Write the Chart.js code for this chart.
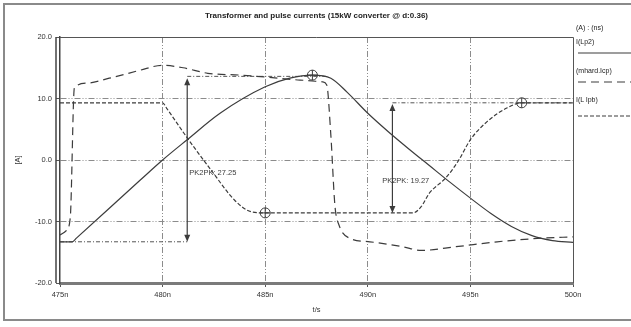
<!DOCTYPE html>
<html>
<head>
<meta charset="utf-8">
<script src="https://cdn.jsdelivr.net/npm/chart.js@4/dist/chart.umd.min.js"></script>
<style>
  html, body { margin: 0; padding: 0; background: #fff; }
  #wrap { position: relative; width: 631px; height: 327px; }
</style>
</head>
<body>
<div id="wrap"><canvas id="currents" width="631" height="327"></canvas></div>
<script>
// axes (time in ns, current in A)
const xTicks = [475, 480, 485, 490, 495, 500];
const yTicks = [-20, -10, 0, 10, 20];

// I(Lp2) - solid
const lp2Time = [475.0, 475.6, 475.8, 478.9, 480.0, 481.2, 482.8, 485.0, 486.2, 487.3, 488.2, 489.0, 490.0, 491.0, 492.0, 493.0, 494.0, 495.0, 496.0, 497.0, 498.0, 499.0, 500.0];
const lp2Amps = [-13.3, -13.3, -12.7, -3.3, 0.0, 3.3, 7.6, 11.9, 13.3, 13.8, 13.3, 11.0, 7.6, 4.6, 1.8, -0.9, -3.6, -6.2, -8.7, -10.8, -12.3, -13.1, -13.4];

// (mhard.Icp) - dashed
const icpTime = [475.0, 475.3, 475.5, 475.7, 476.3, 477.4, 478.0, 478.9, 480.0, 481.0, 482.2, 483.8, 485.0, 486.7, 487.8, 488.0, 488.2, 488.4, 488.6, 489.1, 490.1, 491.7, 492.6, 494.3, 496.3, 498.5, 500.0];
const icpAmps = [-12.2, -11.5, -9.4, 11.7, 12.5, 13.3, 13.8, 14.6, 15.4, 15.0, 14.1, 13.8, 13.5, 13.0, 12.7, 12.2, 4.0, -7.5, -10.6, -12.7, -13.3, -14.1, -14.7, -14.1, -13.3, -12.7, -12.5];

// I(L lpb) - fine dashed
const lpbTime = [475.0, 480.0, 480.2, 481.2, 482.4, 483.5, 484.3, 485.0, 492.2, 492.6, 493.0, 493.8, 494.4, 495.0, 495.8, 496.8, 497.5, 500.0];
const lpbAmps = [9.3, 9.3, 8.4, 3.6, -1.8, -6.5, -8.4, -8.6, -8.6, -7.6, -5.4, -2.9, -0.2, 3.3, 6.2, 8.5, 9.3, 9.3];

// cursors
const cursorTime = [487.3, 485.0, 497.5];
const cursorAmps = [13.8, -8.6, 9.3];

// peak-to-peak measurements
const refTime = [[481.2, 488.0], [475.0, 481.2], [491.2, 500.0]];
const refAmps = [13.6, -13.3, 9.3];
const arrowTime = [481.2, 491.2];
const arrowHigh = [13.3, 9.1];
const arrowLow = [-13.3, -8.6];
const measText = ['PK2PK: 27.25', 'PK2PK: 19.27'];
const measTime = [481.3, 490.7];
const measAmps = [-2.1, -3.4];

const seriesNames = ['I(Lp2)', '(mhard.Icp)', 'I(L lpb)'];

const ink = '#3c3c3c';
const gridInk = '#8c8c8c';
const font = { family: 'Liberation Sans, Arial, sans-serif', size: 7.5 };

function pts(t, v) { return t.map((x, i) => ({ x: x, y: v[i] })); }

const datasets = [
  { label: seriesNames[0], data: pts(lp2Time, lp2Amps), borderColor: ink, borderWidth: 1.2, cubicInterpolationMode: 'monotone' },
  { label: seriesNames[1], data: pts(icpTime, icpAmps), borderColor: ink, borderWidth: 1.2, borderDash: [8, 5], cubicInterpolationMode: 'monotone' },
  { label: seriesNames[2], data: pts(lpbTime, lpbAmps), borderColor: ink, borderWidth: 1.2, borderDash: [4, 2], cubicInterpolationMode: 'monotone' }
];
refTime.forEach((t, i) => {
  datasets.push({ label: 'ref', data: pts(t, [refAmps[i], refAmps[i]]), borderColor: '#555', borderWidth: 1, borderDash: [4, 2, 1, 2] });
});
datasets.push({ type: 'scatter', label: 'cursor', data: pts(cursorTime, cursorAmps), pointStyle: 'circle', pointRadius: 5, borderColor: ink, borderWidth: 1, backgroundColor: 'rgba(0,0,0,0)' });
datasets.push({ type: 'scatter', label: 'cursor', data: pts(cursorTime, cursorAmps), pointStyle: 'cross', pointRadius: 5, borderColor: ink, borderWidth: 1 });

// title, legend, frame and measurement arrows
const decor = {
  id: 'decor',
  afterDatasetsDraw(chart) {
    const ctx = chart.ctx, xs = chart.scales.x, ys = chart.scales.y;
    ctx.save();
    ctx.strokeStyle = ink;
    ctx.fillStyle = ink;
    ctx.lineWidth = 1.2;
    arrowTime.forEach((t, i) => {
      const x = xs.getPixelForValue(t);
      const y1 = ys.getPixelForValue(arrowHigh[i]);
      const y2 = ys.getPixelForValue(arrowLow[i]);
      ctx.beginPath();
      ctx.moveTo(x, y1 + 6);
      ctx.lineTo(x, y2 - 6);
      ctx.stroke();
      ctx.beginPath();
      ctx.moveTo(x, y1); ctx.lineTo(x - 3, y1 + 7); ctx.lineTo(x + 3, y1 + 7); ctx.closePath();
      ctx.fill();
      ctx.beginPath();
      ctx.moveTo(x, y2); ctx.lineTo(x - 3, y2 - 7); ctx.lineTo(x + 3, y2 - 7); ctx.closePath();
      ctx.fill();
    });
    ctx.font = '7.5px Liberation Sans, Arial, sans-serif';
    ctx.textBaseline = 'middle';
    ctx.textAlign = 'left';
    measText.forEach((s, i) => {
      ctx.fillText(s, xs.getPixelForValue(measTime[i]), ys.getPixelForValue(measAmps[i]));
    });
    ctx.restore();
  },
  afterDraw(chart) {
    const ctx = chart.ctx, a = chart.chartArea;
    ctx.save();
    // plot frame
    ctx.strokeStyle = '#555';
    ctx.lineWidth = 1;
    ctx.beginPath();
    ctx.moveTo(a.left, a.top + 0.5); ctx.lineTo(a.right + 0.5, a.top + 0.5); ctx.lineTo(a.right + 0.5, a.bottom);
    ctx.stroke();
    ctx.lineWidth = 1.5;
    ctx.strokeStyle = '#444';
    ctx.beginPath();
    ctx.moveTo(a.left - 4, a.top); ctx.lineTo(a.left - 4, a.bottom);
    ctx.stroke();
    // outer frame
    ctx.strokeStyle = '#8a8a8a';
    ctx.lineWidth = 2;
    ctx.beginPath();
    ctx.moveTo(640, 4); ctx.lineTo(4, 4); ctx.lineTo(4, 320); ctx.lineTo(640, 320);
    ctx.stroke();
    // title
    ctx.fillStyle = '#222';
    ctx.font = 'bold 8px Liberation Sans, Arial, sans-serif';
    ctx.textAlign = 'center';
    ctx.textBaseline = 'middle';
    ctx.fillText('Transformer and pulse currents (15kW converter @ d:0.36)', (a.left + a.right) / 2, 16);
    // legend
    ctx.font = '7px Liberation Sans, Arial, sans-serif';
    ctx.textAlign = 'left';
    ctx.fillText('(A) : (ns)', 576, 28);
    const rows = [[42, 53], [71, 82], [100, 116]];
    rows.forEach((r, i) => {
      const ds = chart.data.datasets[i];
      ctx.fillStyle = '#222';
      ctx.fillText(ds.label, 576, r[0]);
      ctx.strokeStyle = ds.borderColor;
      ctx.lineWidth = ds.borderWidth;
      ctx.setLineDash(ds.borderDash || []);
      ctx.beginPath();
      ctx.moveTo(578, r[1]); ctx.lineTo(631, r[1]);
      ctx.stroke();
      ctx.setLineDash([]);
    });
    ctx.restore();
  }
};

const hideEdges = (lo, hi) => c => (c.tick && c.tick.value > lo && c.tick.value < hi) ? gridInk : 'rgba(0,0,0,0)';

new Chart(document.getElementById('currents'), {
  type: 'line',
  data: { datasets: datasets },
  options: {
    responsive: false,
    devicePixelRatio: 1,
    animation: false,
    elements: { point: { radius: 0 }, line: { tension: 0 } },
    layout: { padding: { left: 10, right: 58, top: 37, bottom: 8 } },
    plugins: { legend: { display: false }, tooltip: { enabled: false }, title: { display: false } },
    scales: {
      x: {
        type: 'linear', min: 475, max: 500,
        afterBuildTicks: s => { s.ticks = xTicks.map(v => ({ value: v })); },
        afterFit: s => { s.height = 36; },
        ticks: { callback: v => v + 'n', font: font, color: '#333', maxRotation: 0, autoSkip: false, padding: 3 },
        grid: { color: hideEdges(475, 500), tickColor: '#555', tickLength: 4, lineWidth: 1 },
        border: { color: '#7a7a7a', width: 3, dash: [6, 2, 1, 2, 1, 2] },
        title: { display: true, text: 't/s', font: font, color: '#333', padding: { top: 0, bottom: 5 } }
      },
      y: {
        min: -20, max: 20,
        afterBuildTicks: s => { s.ticks = yTicks.map(v => ({ value: v })); },
        afterFit: s => { s.width = 50; },
        ticks: { callback: v => v.toFixed(1), font: font, color: '#333', padding: 4 },
        grid: { color: hideEdges(-20, 20), tickColor: '#555', tickLength: 4, lineWidth: 1 },
        border: { color: '#444', width: 1.5, dash: [6, 2, 1, 2, 1, 2] },
        title: { display: true, text: '[A]', font: font, color: '#333', padding: { top: 3, bottom: 0 } }
      }
    }
  },
  plugins: [decor]
});
</script>
</body>
</html>
